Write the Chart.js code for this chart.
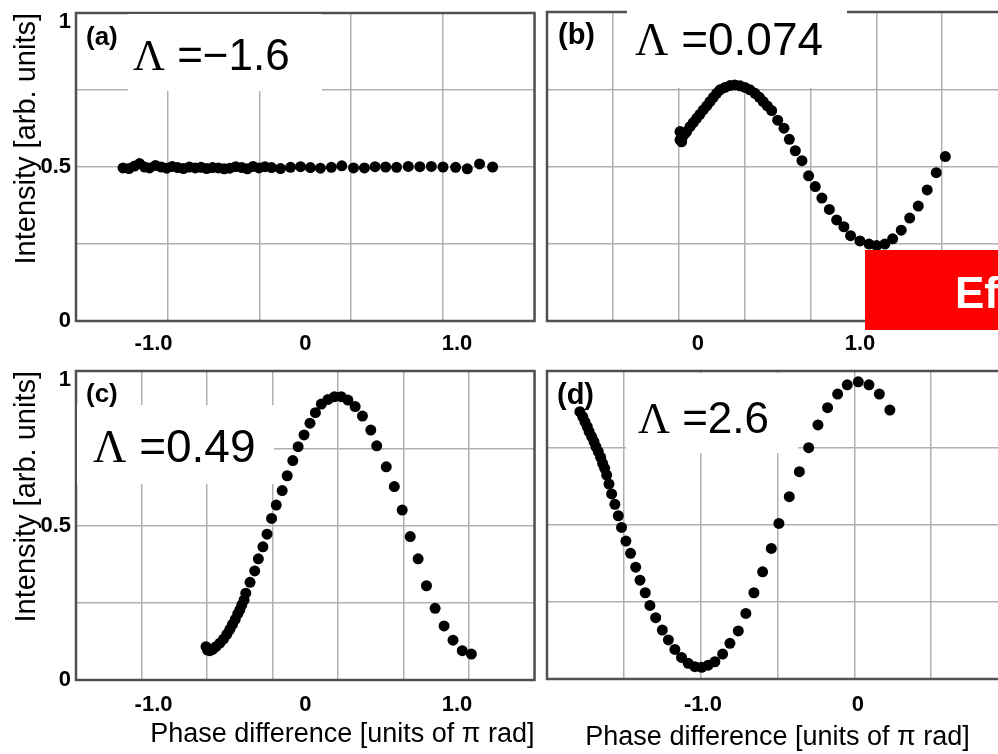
<!DOCTYPE html>
<html>
<head>
<meta charset="utf-8">
<script src="https://cdn.jsdelivr.net/npm/chart.js@4.4.1/dist/chart.umd.min.js"></script>
<style>
  body { margin: 0; background: #fff; overflow: hidden; }
  #wrap { position: relative; width: 998px; height: 754px; overflow: hidden; background: #fff; }
  canvas { position: absolute; }
</style>
</head>
<body>
<div id="wrap">
  <canvas id="pa" width="540" height="355" style="left:0;top:0"></canvas>
  <canvas id="pb" width="480" height="355" style="left:540px;top:0"></canvas>
  <canvas id="pc" width="540" height="399" style="left:0;top:355px"></canvas>
  <canvas id="pd" width="480" height="399" style="left:540px;top:355px"></canvas>
</div>
<script>
// data (phase in units of pi rad, intensity in arb. units)

const panelTags = ['(a)', '(b)', '(c)', '(d)'];
const lambdaLabels = ['\u22121.6', '0.074', '0.49', '2.6'];

const phaseA = [-1.201, -1.162, -1.125, -1.092, -1.059, -1.026, -0.987, -0.950, -0.913, -0.877,
  -0.841, -0.803, -0.764, -0.725, -0.687, -0.650, -0.611, -0.572, -0.534, -0.497,
  -0.458, -0.418, -0.382, -0.344, -0.305, -0.266, -0.222, -0.163, -0.097, -0.031,
  0.034, 0.100, 0.172, 0.241, 0.318, 0.390, 0.460, 0.530, 0.602, 0.679,
  0.755, 0.831, 0.908, 0.991, 1.068, 1.149, 1.235];
const intensityA = [0.497, 0.495, 0.503, 0.511, 0.500, 0.497, 0.505, 0.500, 0.496, 0.502,
  0.498, 0.495, 0.500, 0.497, 0.499, 0.495, 0.498, 0.497, 0.494, 0.496,
  0.501, 0.498, 0.494, 0.502, 0.497, 0.501, 0.498, 0.495, 0.499, 0.501,
  0.498, 0.496, 0.499, 0.504, 0.497, 0.497, 0.501, 0.500, 0.499, 0.502,
  0.501, 0.502, 0.500, 0.499, 0.494, 0.510, 0.500];

const phaseB = [-0.111, -0.111, -0.101, -0.095, -0.080, -0.070, -0.049, -0.029, -0.008, 0.012,
  0.033, 0.054, 0.074, 0.095, 0.115, 0.136, 0.167, 0.198, 0.228, 0.259,
  0.290, 0.321, 0.352, 0.379, 0.403, 0.428, 0.455, 0.492, 0.531, 0.564,
  0.601, 0.642, 0.683, 0.724, 0.765, 0.811, 0.856, 0.901, 0.942, 1.000,
  1.056, 1.103, 1.154, 1.202, 1.255, 1.307, 1.360, 1.415, 1.471, 1.527];
const intensityB = [0.586, 0.613, 0.580, 0.596, 0.607, 0.613, 0.629, 0.642, 0.656, 0.669,
  0.683, 0.696, 0.710, 0.724, 0.737, 0.748, 0.756, 0.762, 0.764, 0.761,
  0.756, 0.748, 0.737, 0.724, 0.710, 0.696, 0.681, 0.650, 0.624, 0.588,
  0.551, 0.519, 0.470, 0.435, 0.398, 0.361, 0.327, 0.305, 0.276, 0.259,
  0.249, 0.244, 0.249, 0.266, 0.294, 0.333, 0.372, 0.424, 0.480, 0.532];

const phaseC = [-0.654, -0.644, -0.628, -0.611, -0.589, -0.563, -0.539, -0.517, -0.497, -0.480,
  -0.462, -0.445, -0.431, -0.418, -0.403, -0.392, -0.364, -0.333, -0.309, -0.279,
  -0.252, -0.222, -0.191, -0.152, -0.119, -0.082, -0.047, -0.008, 0.031, 0.067,
  0.106, 0.150, 0.193, 0.237, 0.281, 0.329, 0.377, 0.432, 0.471, 0.534,
  0.587, 0.639, 0.692, 0.744, 0.799, 0.856, 0.915, 0.974, 1.035, 1.095];
const intensityC = [0.108, 0.097, 0.095, 0.099, 0.108, 0.119, 0.132, 0.148, 0.164, 0.180,
  0.196, 0.214, 0.227, 0.243, 0.259, 0.281, 0.316, 0.353, 0.392, 0.431,
  0.472, 0.523, 0.566, 0.613, 0.661, 0.710, 0.755, 0.793, 0.831, 0.865,
  0.893, 0.908, 0.917, 0.917, 0.906, 0.885, 0.854, 0.809, 0.758, 0.690,
  0.626, 0.550, 0.464, 0.392, 0.305, 0.232, 0.175, 0.129, 0.095, 0.084];

const phaseD = [-1.794, -1.776, -1.761, -1.746, -1.734, -1.718, -1.703, -1.690, -1.675, -1.660,
  -1.647, -1.634, -1.621, -1.606, -1.589, -1.568, -1.546, -1.525, -1.497, -1.467,
  -1.434, -1.406, -1.372, -1.342, -1.305, -1.262, -1.223, -1.181, -1.138, -1.095,
  -1.052, -1.008, -0.966, -0.923, -0.873, -0.826, -0.772, -0.723, -0.671, -0.615,
  -0.559, -0.510, -0.443, -0.378, -0.318, -0.258, -0.196, -0.131, -0.069, 0.002,
  0.071, 0.138, 0.206];
const intensityD = [0.868, 0.852, 0.835, 0.819, 0.803, 0.787, 0.771, 0.754, 0.738, 0.720,
  0.700, 0.684, 0.662, 0.633, 0.601, 0.567, 0.530, 0.492, 0.448, 0.408,
  0.363, 0.321, 0.280, 0.239, 0.199, 0.159, 0.127, 0.096, 0.070, 0.051,
  0.040, 0.038, 0.045, 0.056, 0.081, 0.116, 0.156, 0.213, 0.280, 0.348,
  0.424, 0.505, 0.592, 0.673, 0.751, 0.825, 0.881, 0.925, 0.955, 0.965,
  0.955, 0.925, 0.873];

// tick labels
const phaseTicksLeft = [-1, 0, 1];
const phaseTicksB = [0, 1];
const phaseTicksD = [-1, 0];
const intensityTicks = [0, 0.5, 1];

const xTitle = 'Phase difference [units of \u03c0 rad]';
const yTitle = 'Intensity [arb. units]';

Chart.defaults.font.family = '"Liberation Sans", Arial, sans-serif';
Chart.defaults.color = '#000';

const gridColor = '#b0b0b0';

const zeroPad = (s) => {
    s.paddingLeft = 0; s.paddingRight = 0; s.paddingTop = 0; s.paddingBottom = 0;
};

const fmtPhase = (v) => v === 0 ? '0' : v.toFixed(1);

// frame, white label boxes and texts
const frameAndNotes = {
    id: 'frameAndNotes',
    beforeDatasetsDraw(chart, args, o) {
        const { ctx, chartArea: a } = chart;
        ctx.save();
        ctx.strokeStyle = '#505050';
        ctx.lineWidth = 2.5;
        ctx.strokeRect(a.left, a.top, a.right - a.left, a.bottom - a.top);

        ctx.fillStyle = '#fff';
        ctx.fillRect(a.left + o.box[0], a.top + o.box[1], o.box[2], o.box[3]);

        ctx.fillStyle = '#000';
        ctx.textBaseline = 'middle';
        ctx.font = 'bold ' + o.tagSize + 'px "Liberation Sans"';
        ctx.fillText(o.tag, a.left + o.tagAt[0], a.top + o.tagAt[1]);

        ctx.textBaseline = 'alphabetic';
        const lx = a.left + o.lamAt[0], ly = a.top + o.lamAt[1];
        ctx.font = o.lamSize + 'px "Liberation Serif"';
        ctx.fillText('\u039b', lx, ly);
        const w = ctx.measureText('\u039b').width;
        ctx.font = o.lamSize + 'px "Liberation Sans"';
        ctx.fillText(' =' + o.lambda, lx + w, ly);
        ctx.restore();
    },
    afterDraw(chart, args, o) {
        if (!o.red) return;
        const { ctx, chartArea: a } = chart;
        ctx.save();
        ctx.fillStyle = '#ff0000';
        ctx.fillRect(a.left + o.red[0], a.top + o.red[1], o.red[2], o.red[3]);
        ctx.fillStyle = '#fff';
        ctx.font = 'bold 44px "Liberation Sans"';
        ctx.fillText('Ef', a.left + o.red[4], a.top + o.red[5]);
        ctx.restore();
    }
};

const makePanel = (id, p) => {
    const scales = {
        x: {
            type: 'linear',
            position: 'bottom',
            min: p.xMin,
            max: p.xMax,
            afterBuildTicks: (s) => { s.ticks = p.xTicks.map(v => ({ value: v })); },
            ticks: {
                callback: (v) => fmtPhase(v),
                font: { size: 22, weight: 'bold' },
                padding: p.xPad,
                maxRotation: 0,
                autoSkip: false
            },
            grid: { display: false, drawTicks: false },
            border: { display: false },
            title: {
                display: p.showXTitle,
                text: xTitle,
                align: p.xTitleAlign,
                font: { size: 27 },
                padding: { top: 0, bottom: p.xTitlePad }
            },
            afterFit: (s) => { s.height = p.xHeight; zeroPad(s); }
        },
        xg: {
            type: 'linear',
            position: 'bottom',
            min: 0,
            max: p.divisions,
            ticks: { display: false, stepSize: 1 },
            grid: { color: gridColor, lineWidth: 1.5, drawTicks: false },
            border: { display: false },
            afterFit: (s) => { s.height = 0; zeroPad(s); }
        },
        y: {
            type: 'linear',
            min: 0,
            max: 1,
            afterBuildTicks: (s) => {
                s.ticks = [0, 0.25, 0.5, 0.75, 1].map(v => ({ value: v }));
            },
            ticks: {
                display: p.showY,
                callback: (v) => {
                    if (!intensityTicks.includes(v)) return '';
                    return v === 1 ? ['', '1'] : String(v);
                },
                font: { size: 22, weight: 'bold', lineHeight: '17px' },
                padding: 5
            },
            grid: { color: gridColor, lineWidth: 1.5, drawTicks: false },
            border: { display: false },
            title: {
                display: p.showY,
                text: yTitle,
                align: 'end',
                font: { size: 29 },
                padding: { top: 10, bottom: 0 }
            },
            afterFit: (s) => { s.width = p.yWidth; zeroPad(s); }
        }
    };

    return new Chart(document.getElementById(id), {
        type: 'scatter',
        data: {
            datasets: [{
                data: p.xs.map((x, i) => ({ x: x, y: p.ys[i] })),
                xAxisID: 'x',
                yAxisID: 'y',
                pointRadius: 5.5,
                pointBackgroundColor: '#000',
                pointBorderWidth: 0,
                showLine: false
            }]
        },
        options: {
            responsive: false,
            animation: false,
            events: [],
            layout: { padding: p.pad },
            scales: scales,
            plugins: {
                legend: { display: false },
                tooltip: { enabled: false },
                frameAndNotes: p.notes
            }
        },
        plugins: [frameAndNotes]
    });
};

makePanel('pa', {
    xs: phaseA, ys: intensityA, xTicks: phaseTicksLeft,
    xMin: -1.511, xMax: 1.511, divisions: 5,
    showY: true, yWidth: 76, xHeight: 34, xPad: 10,
    showXTitle: false, xTitleAlign: 'end', xTitlePad: 0,
    pad: { left: 0, top: 13, right: 3, bottom: 0 },
    notes: { tag: panelTags[0], tagSize: 26, tagAt: [10, 25], lambda: lambdaLabels[0],
             lamSize: 44, lamAt: [57, 57], box: [52, 1, 194, 77] }
});

makePanel('pb', {
    xs: phaseB, ys: intensityB, xTicks: phaseTicksB,
    xMin: -0.932, xMax: 1.914, divisions: 7,
    showY: false, yWidth: 7, xHeight: 34, xPad: 10,
    showXTitle: false, xTitleAlign: 'end', xTitlePad: 0,
    pad: { left: 0, top: 12, right: 12, bottom: 0 },
    notes: { tag: panelTags[1], tagSize: 29, tagAt: [11, 24], lambda: lambdaLabels[1],
             lamSize: 46, lamAt: [88, 43], box: [80, -12, 220, 88],
             red: [318, 238, 220, 80, 408, 296] }
});

makePanel('pc', {
    xs: phaseC, ys: intensityC, xTicks: phaseTicksLeft,
    xMin: -1.511, xMax: 1.511, divisions: 7,
    showY: true, yWidth: 76, xHeight: 74, xPad: 12,
    showXTitle: true, xTitleAlign: 'end', xTitlePad: 3,
    pad: { left: 0, top: 16, right: 3, bottom: 0 },
    notes: { tag: panelTags[2], tagSize: 26, tagAt: [10, 24], lambda: lambdaLabels[2],
             lamSize: 46, lamAt: [17, 91], box: [1, 34, 197, 79] }
});

makePanel('pd', {
    xs: phaseD, ys: intensityD, xTicks: phaseTicksD,
    xMin: -2.006, xMax: 0.968, divisions: 6,
    showY: false, yWidth: 7, xHeight: 75, xPad: 13,
    showXTitle: true, xTitleAlign: 'center', xTitlePad: 0,
    pad: { left: 0, top: 16, right: 12, bottom: 0 },
    notes: { tag: panelTags[3], tagSize: 29, tagAt: [10, 25], lambda: lambdaLabels[3],
             lamSize: 44, lamAt: [91, 62], box: [79, 2, 172, 80] }
});
</script>
</body>
</html>
